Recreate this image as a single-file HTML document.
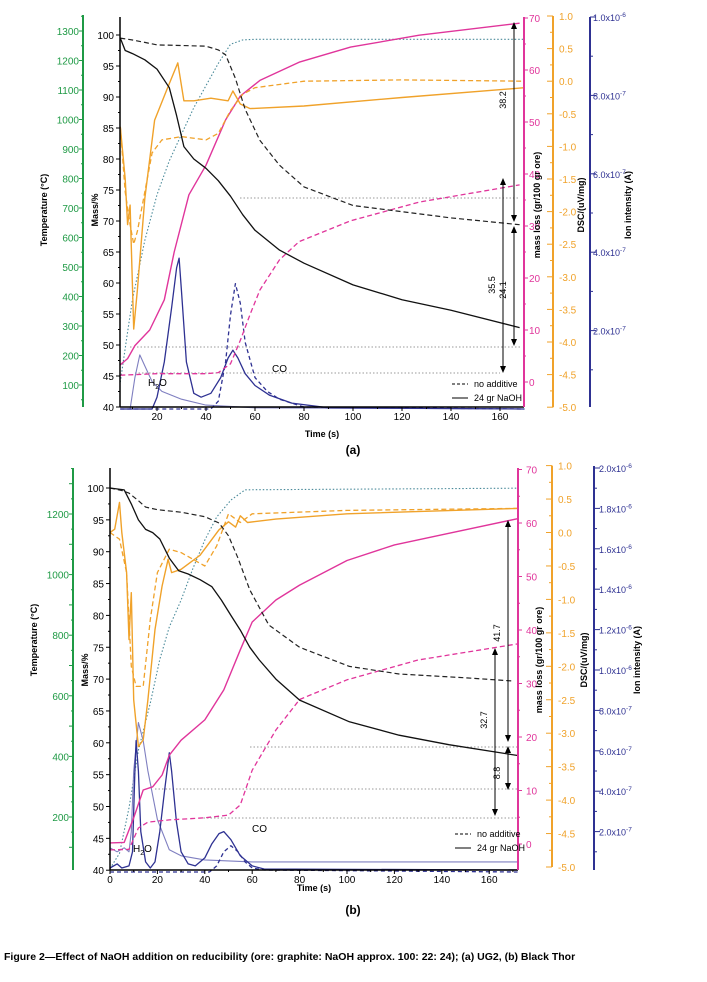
<!DOCTYPE html>
<html><head><meta charset="utf-8"><style>
body{margin:0;background:#fff;width:707px;height:977px;overflow:hidden}
svg{font-family:"Liberation Sans",sans-serif}
</style></head><body>
<svg id="fig" width="707" height="977" viewBox="0 0 707 977" xmlns="http://www.w3.org/2000/svg"></svg>
<script>
// ---------- Panel (a) data ----------
const aMassDashT=[5,10,15,20,30,40,45,48,52,56,62,70,80,100,120,140,168];
const aMassDashV=[99.5,99.2,98.8,98.4,98.3,98.2,97.6,96.8,93,88,83,79,75.5,72.5,71.5,70.5,69.4];
const aMassSolT=[5,7,10,15,20,25,28,31,35,40,45,50,55,60,70,80,100,120,140,168];
const aMassSolV=[99.5,97.5,97,96,94.5,91.5,87,82,80,78.5,76.5,74,71,68.5,65.3,63.2,59.7,57.3,55.6,52.8];
const aTempT=[5,8,10,15,20,25,30,35,40,45,50,55,60,170];
const aTempV=[110,280,390,590,745,860,950,1040,1115,1190,1255,1270,1272,1272];
const aDscSolT=[5,7,8,9,10.5,12,15,19,24,28.5,31,35,42,49,51,54,58,80,120,170];
const aDscSolV=[-0.7,-1.5,-2.2,-1.9,-3.8,-3.2,-1.8,-0.6,-0.13,0.28,-0.3,-0.3,-0.26,-0.3,-0.15,-0.35,-0.42,-0.38,-0.25,-0.1];
const aDscDashT=[5,7,9,10.5,12,15,18,22,30,40,45,50,55,60,80,120,170];
const aDscDashV=[-0.7,-1.7,-2.2,-2.5,-2.3,-1.7,-1.1,-0.9,-0.85,-0.9,-0.8,-0.45,-0.2,-0.1,0.0,0.02,0.0];
const aLossSolT=[5,8,11,17,23,27,33,40,48,54,62,78,99,127,168];
const aLossSolV=[3.3,4.5,7,10,15.8,25,36,41.7,50.4,55,58,61.5,64.4,66.7,69];
const aLossDashT=[5,20,40,45,50,54,58,62,70,78,99,127,168];
const aLossDashV=[1.3,1.6,1.6,1.8,3.5,8,13,17.7,23.5,27,31,34.6,37.9];
const aIon1T=[5,9,11,13,15,18,22,30,40,60,170];
const aIon1V=[0,0,0.08,0.138,0.11,0.07,0.045,0.025,0.01,0.003,0];
const aIon2T=[5,18,20,23,26,28,29,30,32,35,38,42,46,49,51,53,56,60,66,75,90,170];
const aIon2V=[0,0,0.03,0.12,0.26,0.36,0.385,0.3,0.12,0.04,0.03,0.04,0.08,0.13,0.15,0.13,0.09,0.06,0.035,0.015,0.003,0];
const aIon3T=[5,42,45,48,50,52,54,56,60,65,70,80,170];
const aIon3V=[0,0,0.02,0.12,0.24,0.32,0.27,0.17,0.08,0.045,0.025,0.005,0];
// ---------- Panel (b) data ----------
const bMassDashT=[0,5,8,12,15,20,30,40,46,50,54,59,67,80,101,122,150,170];
const bMassDashV=[100,99.6,99.2,98,97,96.6,96.2,95.5,94.5,92.5,89,84,78.5,75,72,70.8,70.2,69.7];
const bMassSolT=[0,6,9,12,15,18,21,25,29,33,38,43,47,51,55,59,63,70,80,101,122,143,172];
const bMassSolV=[100,99.7,97.5,95,93.5,93,92,89,87,86.5,85.6,84.5,82.4,80,77.7,75,73,70,66.7,63.3,61.2,59.7,58];
const bTempT=[0,4,8,12,17,21,25,30,35,40,45,51,57,172];
const bTempV=[30,80,230,420,576,720,827,916,1020,1114,1190,1246,1280,1285];
const bDscSolT=[0,2,4,5,7,8,9,10,12,14,16,19,22,24.5,26,30,38,46,50,53,55,58,70,100,172];
const bDscSolV=[0.0,0.05,0.45,0.0,-0.6,-1.6,-0.9,-2.5,-3.2,-3.1,-2.5,-1.45,-0.8,-0.4,-0.6,-0.55,-0.34,0.04,0.16,0.08,0.25,0.15,0.2,0.28,0.36];
const bDscDashT=[0,4,7,9,11,14,17,20,25,30,40,45,50,55,60,100,172];
const bDscDashV=[0.0,-0.1,-0.6,-2.0,-2.3,-2.3,-1.3,-0.6,-0.25,-0.3,-0.5,-0.2,0.28,0.15,0.28,0.33,0.36];
const bLossSolT=[0,6,10,14,18,22,25,30,40,48,55,60,70,80,100,120,140,172];
const bLossSolV=[0.2,0.3,4.9,10.1,10.7,12.9,16.6,19.4,23.2,28.8,36.3,41.5,45.6,48.4,53,55.9,57.8,60.8];
const bLossDashT=[0,8,12,16,25,40,50,55,60,70,80,100,130,172];
const bLossDashV=[-1.1,-1,3,4.1,4.5,4.9,5.4,7.3,13.8,21.3,27,30.7,34.4,37.4];
const bIon1T=[0,3,6,8,9,10,12,14,16,20,25,30,40,60,100,172];
const bIon1V=[0.12,0.1,0.12,0.1,0.2,0.5,0.74,0.65,0.5,0.26,0.11,0.08,0.06,0.05,0.05,0.05];
const bIon2T=[0,3,5,8,9.5,10.5,11,12,13,15,17,19,21,23,25,26,28,30,33,36,40,43,46,48,51,55,60,65,172];
const bIon2V=[0.02,0.04,0.02,0.03,0.1,0.5,0.65,0.5,0.2,0.05,0.02,0.05,0.2,0.4,0.59,0.5,0.25,0.1,0.04,0.03,0.07,0.14,0.19,0.2,0.16,0.08,0.03,0.015,0.01];
const bIon3T=[0,42,45,48,51,54,57,60,65,172];
const bIon3V=[0,0,0.03,0.1,0.13,0.1,0.05,0.02,0.01,0];
// tick label arrays
const aTimeTicks=[20,40,60,80,100,120,140,160];
const bTimeTicks=[0,20,40,60,80,100,120,140,160];
const aTempTicks=[100,200,300,400,500,600,700,800,900,1000,1100,1200,1300];
const bTempTicks=[200,400,600,800,1000,1200];
const massTicks=[40,45,50,55,60,65,70,75,80,85,90,95,100];
const lossTicks=[0,10,20,30,40,50,60,70];
const dscTicks=[1.0,0.5,0.0,-0.5,-1.0,-1.5,-2.0,-2.5,-3.0,-3.5,-4.0,-4.5,-5.0];
const aIonTicks=[2,4,6,8,10];
const bIonTicks=[2,4,6,8,10,12,14,16,18,20];

const NS="http://www.w3.org/2000/svg";
const svg=document.getElementById('fig');
function el(tag,attrs,parent){const e=document.createElementNS(NS,tag);for(const k in attrs)e.setAttribute(k,attrs[k]);(parent||svg).appendChild(e);return e;}
function txt(x,y,s,attrs,parent){const e=el('text',Object.assign({x:x,y:y,'font-size':10},attrs||{}),parent);e.textContent=s;return e;}
function line(x1,y1,x2,y2,st,w,dash,parent){return el('line',{x1:x1,y1:y1,x2:x2,y2:y2,stroke:st,'stroke-width':w||1,'stroke-dasharray':dash||'none'},parent);}
function series(T,V,xf,yf,color,w,dash,name,g){
  const d=T.map((t,i)=>(i?'L':'M')+xf(t).toFixed(1)+','+yf(V[i]).toFixed(1)).join('');
  const p=el('path',{d:d,fill:'none',stroke:color,'stroke-width':w,'stroke-dasharray':dash||'none','stroke-linejoin':'round'},g);
  
  
  return p;
}
function arrow(x,y1,y2,g){
  line(x,y1+5,x,y2-5,'#000',1,null,g);
  el('path',{d:`M${x-3},${y1+7}L${x},${y1}L${x+3},${y1+7}Z`,fill:'#000'},g);
  el('path',{d:`M${x-3},${y2-7}L${x},${y2}L${x+3},${y2-7}Z`,fill:'#000'},g);
}
function rtext(x,y,s,attrs,g){const t=txt(0,0,s,Object.assign({'text-anchor':'middle',transform:`translate(${x},${y}) rotate(-90)`},attrs||{}),g);return t;}
function ionLabel(x,y,mant,exp,color,g){
  const t=el('text',{x:x,y:y,'font-size':9,fill:color},g);
  t.textContent=mant+'x10';
  const s=el('tspan',{dy:-4,'font-size':6.5},t);s.textContent=exp;
}

const GREEN='#1f9a45',PINK='#e0359b',ORANGE='#f0a22a',NAVY='#2e3192',LAV='#7f7fc0',TEAL='#4a8a9a';

function panel(P,D){
  const g=el('g',{});
  
  
  const X=t=>P.x0+t*P.xs;
  const YM=m=>P.m100+(100-m)*P.ms;
  const YT=T=>P.T0y-(T-P.T0)*P.Ts;
  const YL=v=>P.L0y-v*P.Ls;
  const YD=d=>P.D0y-d*P.Ds;
  const YI=i=>P.I0y-i*P.Is;
  const L=P.left,R=P.right,B=P.bottom;
  P.guides.forEach(gd=>line(gd[0],gd[2],gd[1],gd[2],'#999',1,'1.5,2',g));
  series(D.tempT,D.tempV,X,YT,TEAL,1.1,'1.5,2','temperature-line',g);
  series(D.ion1T,D.ion1V,X,YI,LAV,1.1,null,'ion-h2o-no-additive-line',g);
  series(D.ion2T,D.ion2V,X,YI,NAVY,1.3,null,'ion-naoh-line',g);
  series(D.ion3T,D.ion3V,X,YI,NAVY,1.3,'4,3','ion-co-no-additive-line',g);
  series(D.lossDashT,D.lossDashV,X,YL,PINK,1.3,'5,3','mass-loss-no-additive-line',g);
  series(D.lossSolT,D.lossSolV,X,YL,PINK,1.4,null,'mass-loss-naoh-line',g);
  series(D.dscDashT,D.dscDashV,X,YD,ORANGE,1.3,'5,3','dsc-no-additive-line',g);
  series(D.dscSolT,D.dscSolV,X,YD,ORANGE,1.4,null,'dsc-naoh-line',g);
  series(D.massDashT,D.massDashV,X,YM,'#222',1.2,'5,3','mass-no-additive-line',g);
  series(D.massSolT,D.massSolV,X,YM,'#111',1.3,null,'mass-naoh-line',g);
  line(L,P.mtop,L,B,'#000',1.5,null,g);
  line(L,B,R,B,'#000',1.5,null,g);
  for(let t=0;t<=170;t+=10){const x=X(t);if(x<L-0.5||x>R)continue;line(x,B,x,B+(t%20?2:4),'#000',1,null,g);}
  D.timeTicks.forEach(t=>{txt(X(t),B+13,String(t),{'text-anchor':'middle'},g);});
  const xt=txt((L+R)/2,P.timeY,'Time (s)',{'text-anchor':'middle','font-size':9,'font-weight':'bold'},g);
  
  const pl=txt(353,P.labelY,P.label,{'text-anchor':'middle','font-size':12,'font-weight':'bold'},g);
  
  for(let m=40;m<=100;m+=2.5){line(L-(m%5?2:4),YM(m),L,YM(m),'#000',1,null,g);}
  massTicks.forEach(m=>txt(L-6,YM(m)+4,String(m),{'text-anchor':'end'},g));
  const mt=rtext(L-22,P.massTitleY,'Mass/%',{'font-size':9,'font-weight':'bold'},g);
  
  const GX=P.greenX;
  line(GX,P.gtop,GX,P.gbot,GREEN,2,null,g);
  for(let T=P.T0-100;T<=1350;T+=50){const y=YT(T);if(y<P.gtop||y>P.gbot)continue;line(GX-((T%100)?2:4),y,GX,y,GREEN,1,null,g);}
  D.tempTicks.forEach(T=>txt(GX-4,YT(T)+4,String(T),{'text-anchor':'end',fill:GREEN},g));
  const tt=rtext(GX-36,P.tempTitleY,'Temperature (°C)',{'font-size':9,'font-weight':'bold'},g);
  
  line(R,P.ptop,R,B,PINK,2,null,g);
  for(let v=-5;v<=70;v+=5){const y=YL(v);if(y<P.ptop||y>B)continue;line(R,y,R+(v%10?2:4),y,PINK,1,null,g);}
  lossTicks.forEach(v=>txt(R+P.lossLabDx,YL(v)+4,String(v),{fill:PINK},g));
  const lt=rtext(R+P.lossTitleDx,P.lossTitleY,'mass loss (gr/100 gr ore)',{'font-size':9,'font-weight':'bold'},g);
  
  const DX=P.dscX;
  line(DX,YD(1),DX,YD(-5),ORANGE,2,null,g);
  for(let d=-5;d<=1.001;d+=0.25){line(DX-(Math.abs(d*2-Math.round(d*2))>0.01?3:6),YD(d),DX,YD(d),ORANGE,1,null,g);}
  dscTicks.forEach(d=>txt(DX+6,YD(d)+4,d.toFixed(1),{fill:ORANGE},g));
  const dt=rtext(DX+P.dscTitleDx,P.dscTitleY,'DSC/(uV/mg)',{'font-size':9,'font-weight':'bold'},g);
  
  const IX=P.ionX;
  line(IX,P.itop,IX,P.I0y-2,NAVY,2,null,g);
  for(let i=1;i<=P.imax;i++){const y=YI(i/10);line(IX,y,IX+(i%2?3:6),y,NAVY,1,null,g);}
  D.ionTicks.forEach(k=>{const v=k/10;const lab=k>=10?[(k/10).toFixed(1),'-6']:[(k).toFixed(1),'-7'];ionLabel(IX+P.ionLabDx,YI(v)+4,lab[0],lab[1],NAVY,g);});
  const it=rtext(IX+P.ionTitleDx,P.ionTitleY,'Ion intensity (A)',{'font-size':9,'font-weight':'bold'},g);
  
  P.arrows.forEach(a=>{arrow(a[0],a[1],a[2],g);rtext(a[0]-8,a[4],a[3],{'font-size':9},g);});
  const lg=el('g',{},g);
  
  line(P.legX,P.legY,P.legX+16,P.legY,'#000',1,'3,2',lg);txt(P.legX+22,P.legY+3,'no additive',{'font-size':9},lg);
  line(P.legX,P.legY+14,P.legX+16,P.legY+14,'#000',1,null,lg);txt(P.legX+22,P.legY+17,'24 gr NaOH',{'font-size':9},lg);
  const h=el('text',{x:P.h2o[0],y:P.h2o[1],'font-size':10},g);h.textContent='H';const s=el('tspan',{dy:3,'font-size':7},h);s.textContent='2';const o=el('tspan',{dy:-3},h);o.textContent='O';
  txt(P.co[0],P.co[1],'CO',{'font-size':10},g);
}

panel({name:'panel-a',x0:108,xs:2.45,left:120,right:524,bottom:407,mtop:17,m100:35,ms:6.2,
  T0:100,T0y:385,Ts:0.295,greenX:83,gtop:15,gbot:407,L0y:382,Ls:5.2,ptop:17,D0y:81.2,Ds:65.2,dscX:553,
  I0y:409,Is:392,ionX:590,itop:17,imax:10,timeY:437,labelY:454,massTitleY:210,tempTitleY:210,lossTitleY:205,dscTitleY:205,ionTitleY:205,
  lossLabDx:5,lossTitleDx:16,dscTitleDx:31,ionLabDx:3,ionTitleDx:41,
  guides:[[240,520,198],[130,520,347],[135,500,373]],
  arrows:[[514,22,222,'38.2',100],[514,226,346,'24.1',290],[503,178,373,'35.5',285]],
  legX:452,legY:384,h2o:[148,386],co:[272,372],label:'(a)'},
 {massDashT:aMassDashT,massDashV:aMassDashV,massSolT:aMassSolT,massSolV:aMassSolV,tempT:aTempT,tempV:aTempV,
  dscSolT:aDscSolT,dscSolV:aDscSolV,dscDashT:aDscDashT,dscDashV:aDscDashV,lossSolT:aLossSolT,lossSolV:aLossSolV,
  lossDashT:aLossDashT,lossDashV:aLossDashV,ion1T:aIon1T,ion1V:aIon1V,ion2T:aIon2T,ion2V:aIon2V,ion3T:aIon3T,ion3V:aIon3V,
  timeTicks:aTimeTicks,tempTicks:aTempTicks,ionTicks:aIonTicks});

panel({name:'panel-b',x0:110,xs:2.37,left:110,right:518,bottom:870,mtop:468,m100:488,ms:6.37,
  T0:200,T0y:817,Ts:0.303,greenX:73,gtop:468,gbot:870,L0y:844,Ls:5.35,ptop:468,D0y:532.5,Ds:66.9,dscX:552,
  I0y:872,Is:202,ionX:594,itop:466,imax:20,timeY:891,labelY:914,massTitleY:670,tempTitleY:640,lossTitleY:660,dscTitleY:660,ionTitleY:660,
  lossLabDx:8,lossTitleDx:24,dscTitleDx:35,ionLabDx:5,ionTitleDx:46,
  guides:[[250,518,747],[155,518,789],[200,518,818]],
  arrows:[[508,520,742,'41.7',633],[508,746,790,'8.8',773],[495,648,816,'32.7',720]],
  legX:455,legY:834,h2o:[133,852],co:[252,832],label:'(b)'},
 {massDashT:bMassDashT,massDashV:bMassDashV,massSolT:bMassSolT,massSolV:bMassSolV,tempT:bTempT,tempV:bTempV,
  dscSolT:bDscSolT,dscSolV:bDscSolV,dscDashT:bDscDashT,dscDashV:bDscDashV,lossSolT:bLossSolT,lossSolV:bLossSolV,
  lossDashT:bLossDashT,lossDashV:bLossDashV,ion1T:bIon1T,ion1V:bIon1V,ion2T:bIon2T,ion2V:bIon2V,ion3T:bIon3T,ion3V:bIon3V,
  timeTicks:bTimeTicks,tempTicks:bTempTicks,ionTicks:bIonTicks});

const cap=txt(4,960,'Figure 2\u2014Effect of NaOH addition on reducibility (ore: graphite: NaOH approx. 100: 22: 24); (a) UG2, (b) Black Thor',{'font-size':10.5,'font-weight':'bold'});


</script>
</body></html>
